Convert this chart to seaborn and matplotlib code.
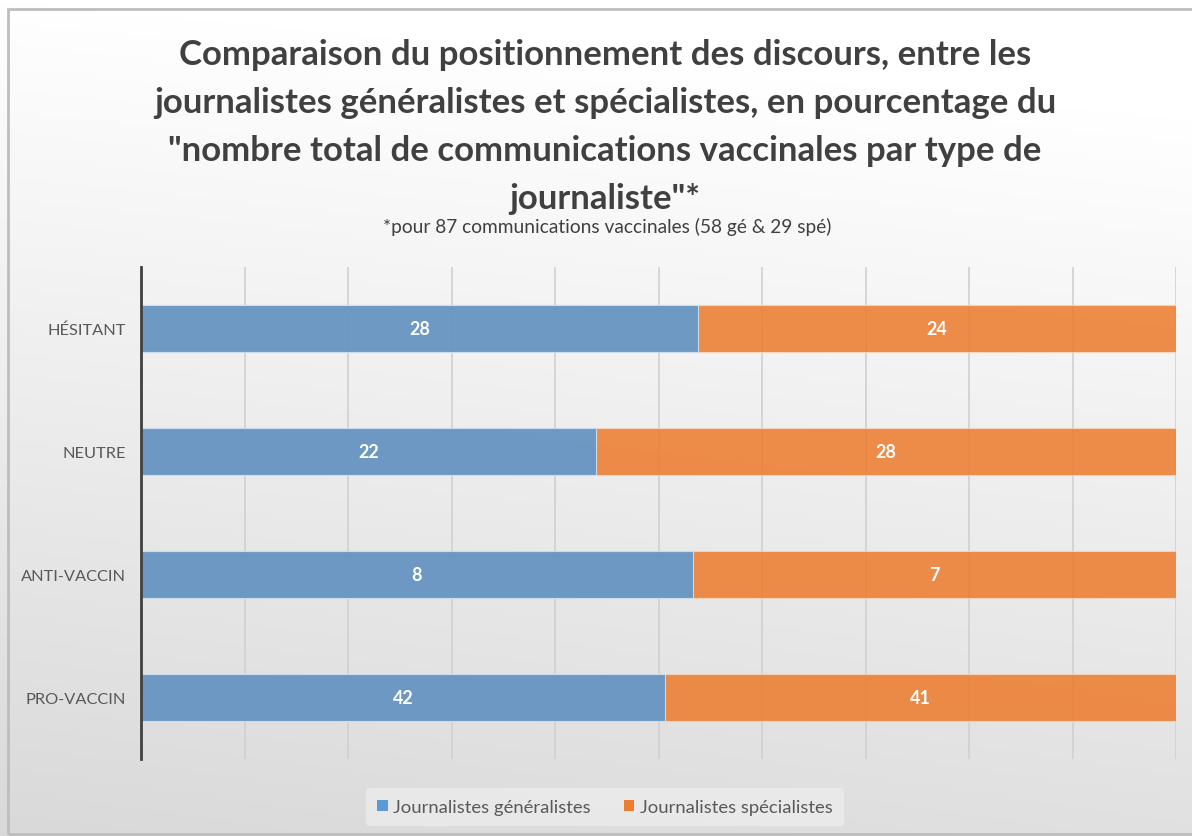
import numpy as np
import pandas as pd
import matplotlib
matplotlib.use("Agg")
import matplotlib.pyplot as plt
import seaborn as sns
from matplotlib.patches import Rectangle, Patch

categories = ["HÉSITANT", "NEUTRE", "ANTI-VACCIN", "PRO-VACCIN"]
generalistes = [28, 22, 8, 42]
specialistes = [24, 28, 7, 41]
series_names = ["Journalistes généralistes", "Journalistes spécialistes"]

title = ("Comparaison du positionnement des discours, entre les\n"
         "journalistes généralistes et spécialistes, en pourcentage du\n"
         "\"nombre total de communications vaccinales par type de\n"
         "journaliste\"*")
subtitle = "*pour 87 communications vaccinales (58 gé & 29 spé)"

df = pd.DataFrame({"cat": categories, "gen": generalistes, "spe": specialistes})
df["total"] = df["gen"] + df["spe"]
df["share_gen"] = df["gen"] / df["total"]
df["full"] = 1.0

sns.set_theme(style="white")
FAM = ["Lato", "DejaVu Sans"]
plt.rcParams["font.family"] = FAM

BLUE = "#5B9BD5"
ORANGE = "#ED7D31"

fig = plt.figure(figsize=(11.92, 8.37), dpi=100)

# background gradient
bg = fig.add_axes([0, 0, 1, 1], zorder=-10)
h, w = 200, 300
yy, xx = np.mgrid[0:h, 0:w]
val = 1.0 - 0.12 * (yy / h) - 0.03 * (1 - xx / w) * (yy / h)
val = np.clip(val + 0.02 * (1 - yy / h) * (xx / w), 0, 1)
img = np.dstack([val, val, val])
bg.imshow(img, aspect="auto", extent=[0, 1, 0, 1], origin="upper")
bg.set_xlim(0, 1)
bg.set_ylim(0, 1)
bg.axis("off")
bg.add_patch(Rectangle((8 / 1192, 0.002), 1.2, (827 - 2) / 837, transform=bg.transAxes,
                       fill=False, edgecolor="#bdbdbd", lw=2))

ax = fig.add_axes([141 / 1192, 1 - 760 / 837, (1176 - 141) / 1192, (760 - 268) / 837])
ax.set_facecolor("none")

sns.barplot(data=df, y="cat", x="full", color=ORANGE, orient="h", width=0.38,
            saturation=1, alpha=0.88, edgecolor="#f6d6c0", linewidth=0.8, ax=ax, zorder=3)
sns.barplot(data=df, y="cat", x="share_gen", color=BLUE, orient="h", width=0.38,
            saturation=1, alpha=0.88, edgecolor="#cfe2f3", linewidth=0.8, ax=ax, zorder=3)

ax.set_xlim(0, 1)
ax.set_ylim(3.5, -0.5)
ax.set_xticks(np.arange(0, 1.01, 0.1))
ax.set_xticklabels([])
ax.tick_params(axis="both", length=0)
ax.grid(axis="x", color="#d0d0d0", lw=1.2, zorder=0)
ax.grid(axis="y", visible=False)
ax.set_axisbelow(True)
ax.set_xlabel("")
ax.set_ylabel("")
for s in ["top", "right", "bottom"]:
    ax.spines[s].set_visible(False)
ax.spines["left"].set_color("#404040")
ax.spines["left"].set_linewidth(2)
ax.spines["left"].set_zorder(5)

ax.set_yticks(range(len(categories)))
ax.set_yticklabels(categories, fontsize=11.8, color="#595959", family=FAM)
ax.tick_params(axis="y", pad=11)

for i, row in df.iterrows():
    ax.text(row["share_gen"] / 2, i, str(row["gen"]), ha="center", va="center",
            color="white", fontsize=13, fontweight="bold", family=FAM, zorder=6)
    ax.text(row["share_gen"] + (1 - row["share_gen"]) / 2, i, str(row["spe"]),
            ha="center", va="center", color="white", fontsize=13,
            fontweight="bold", family=FAM, zorder=6)

fig.text(605 / 1192, 1 - 127 / 837, title, ha="center", va="center",
         fontsize=25, fontweight="bold", color="#404040", family=FAM,
         linespacing=1.62)
fig.text(607 / 1192, 1 - 227 / 837, subtitle, ha="center", va="center",
         fontsize=13.8, color="#404040", family=FAM)

handles = [Patch(facecolor=BLUE, edgecolor="none"), Patch(facecolor=ORANGE, edgecolor="none")]
leg = fig.legend(handles, series_names, loc="center", bbox_to_anchor=(605 / 1192, 1 - 808 / 837),
                 ncol=2, frameon=True, fontsize=13.3, handlelength=0.55, handleheight=0.55,
                 handletextpad=0.3, columnspacing=1.8, borderpad=0.6)
leg.get_frame().set_facecolor("#ececec")
leg.get_frame().set_edgecolor("none")
leg.get_frame().set_alpha(0.8)
for t in leg.get_texts():
    t.set_color("#595959")

fig.savefig("out.png", dpi=100)
